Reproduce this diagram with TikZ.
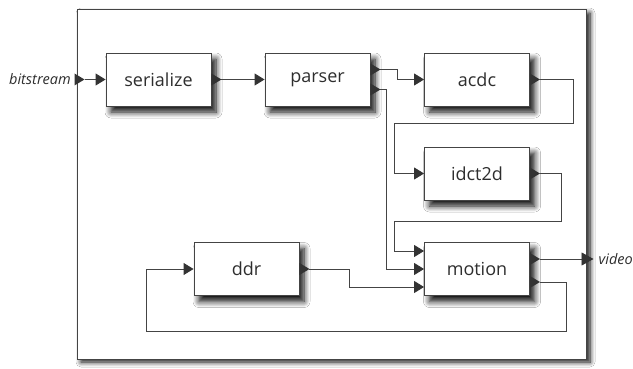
\documentclass[tikz,border=0pt]{standalone}
\usepackage{fontspec}
\setmainfont{Open Sans}
\usetikzlibrary{arrows.meta,shadows.blur,calc}
\definecolor{ln}{HTML}{444444}
\definecolor{tipc}{HTML}{333333}
\begin{document}
\begin{tikzpicture}[x=1pt,y=-1pt,
  frame/.style={draw=ln,line width=1pt,fill=white,minimum width=509pt,minimum height=349pt,inner sep=0pt,
    blur shadow={shadow xshift=4pt,shadow yshift=-3pt,shadow blur radius=5pt,shadow opacity=95,shadow blur steps=8}},
  blk/.style={draw=ln,line width=0.9pt,fill=white,minimum width=105pt,minimum height=53pt,inner sep=0pt,
    font=\fontsize{18}{20}\selectfont,text=black!82,
    blur shadow={shadow xshift=5pt,shadow yshift=-6pt,shadow blur radius=6pt,shadow opacity=95,shadow blur steps=8}},
  conn/.style={draw=ln,line width=0.9pt},
  inarr/.style={conn,-{Triangle[length=10pt,width=12pt,fill=tipc,color=tipc]}},
  lbl/.style={font=\fontsize{14.5}{16}\selectfont\itshape,text=black!82,inner sep=0pt},
  oport/.style={fill=tipc}
]
\useasboundingbox (0,0) rectangle (633,369);
\fill[white] (0,0) rectangle (633,369);
\node[frame] (frame) at (331.5,184.5) {};
\node[blk] (ser) at (158.5,79.5) {serialize};
\node[blk] (par) at (317.5,79.5) {parser};
\node[blk] (acdc) at (477,79.5) {acdc};
\node[blk] (idct) at (477,173.5) {idct2d};
\node[blk] (ddr) at (246.5,269) {ddr};
\node[blk] (mot) at (477,269) {motion};
% input
\node[lbl,anchor=east] (bs) at (71,79.5) {bitstream};
\coordinate (bsin) at ($(frame.west |- ser.west)+(-2,0)$);
\fill[oport] (bsin) +(0,-6) -- +(10,0) -- +(0,6) -- cycle;
\draw[inarr] ($(bsin)+(10,0)$) -- (ser.west);
% serialize -> parser
\fill[oport] (ser.east) +(0,-6) -- +(10,0) -- +(0,6) -- cycle;
\draw[inarr] ($(ser.east)+(10,0)$) -- (par.west);
% parser outputs
\coordinate (p1) at ($(par.east)+(0,-10)$);
\coordinate (p2) at ($(par.east)+(0,10)$);
\fill[oport] (p1) +(0,-6) -- +(10,0) -- +(0,6) -- cycle;
\fill[oport] (p2) +(0,-6) -- +(10,0) -- +(0,6) -- cycle;
\draw[inarr] ($(p1)+(10,0)$) -| ($(acdc.west)+(-27,0)$) -- (acdc.west);
\draw[inarr] ($(p2)+(10,0)$) -| ($(mot.west)+(-38,0)$) -- (mot.west);
% acdc -> idct2d
\fill[oport] (acdc.east) +(0,-6) -- +(10,0) -- +(0,6) -- cycle;
\draw[inarr] ($(acdc.east)+(10,0)$) -| ($(acdc.east)+(43,43.5)$) -| ($(idct.west)+(-30,0)$) -- (idct.west);
% idct2d -> motion
\fill[oport] (idct.east) +(0,-6) -- +(10,0) -- +(0,6) -- cycle;
\draw[inarr] ($(idct.east)+(10,0)$) -| ($(idct.east)+(31,47.5)$) -| ($(mot.west)+(-30,-18)$) -- ($(mot.west)+(0,-18)$);
% ddr -> motion
\fill[oport] (ddr.east) +(0,-6) -- +(10,0) -- +(0,6) -- cycle;
\draw[inarr] ($(ddr.east)+(10,0)$) -| ($(ddr.east)+(50,18)$) -- ($(mot.west)+(0,18)$);
% motion outputs
\coordinate (m1) at ($(mot.east)+(0,-10)$);
\coordinate (m2) at ($(mot.east)+(0,13)$);
\fill[oport] (m1) +(0,-6) -- +(10,0) -- +(0,6) -- cycle;
\fill[oport] (m2) +(0,-6) -- +(10,0) -- +(0,6) -- cycle;
\coordinate (vout) at ($(frame.east |- m1)+(7,0)$);
\draw[conn,-{Triangle[length=12pt,width=13pt,fill=tipc,color=tipc]}] ($(m1)+(10,0)$) -- (vout);
\node[lbl,anchor=west] (vid) at ($(vout)+(5,0)$) {video};
\draw[inarr] ($(m2)+(10,0)$) -| ($(m2)+(36,49)$) -| ($(ddr.west)+(-47,0)$) -- (ddr.west);
\end{tikzpicture}
\end{document}
